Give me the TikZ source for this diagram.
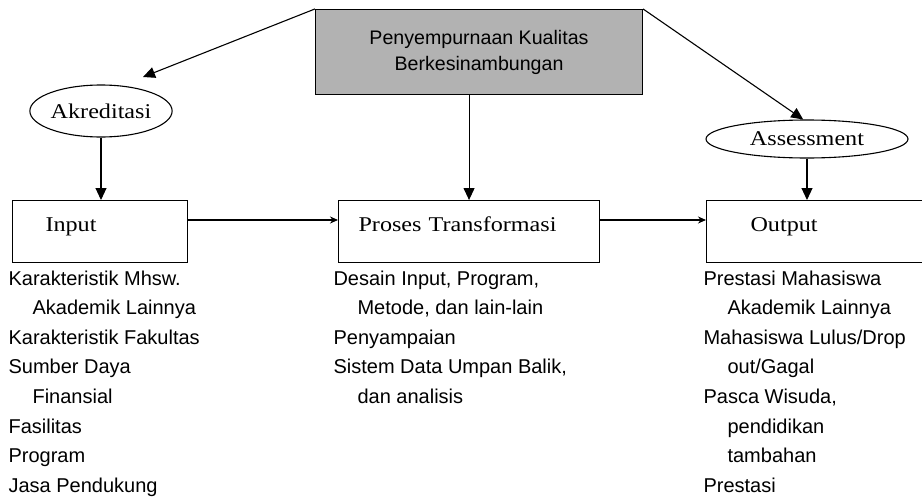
\documentclass[tikz,border=0pt]{standalone}
\usepackage{fontspec}
\setmainfont{Liberation Serif}
\setsansfont{Liberation Sans}
\newfontfamily\labelfont{Liberation Serif}[FakeStretch=1.15]
\usetikzlibrary{shapes.geometric,arrows.meta}

\begin{document}
\begin{tikzpicture}[x=1pt,y=-1pt,line width=1.1pt,
  kotak/.style={draw,anchor=north west,inner sep=0pt,text width=#1,
    text height=31pt,text depth=31pt,align=left,
    font=\labelfont\fontsize{21}{24}\selectfont},
  elips/.style={draw,ellipse,font=\labelfont\fontsize{21}{24}\selectfont,inner sep=0pt},
  daftar/.style={anchor=north west,font=\sffamily\fontsize{20}{29.6}\selectfont,
    align=left,inner sep=0pt},
  panah/.style={-{Triangle[length=12pt,width=11pt]}},
  panahkecil/.style={-{Stealth[length=8pt,width=7pt]}}]
\useasboundingbox (0,0) rectangle (922,498);

% kotak atas
\node[draw,fill=gray!60,minimum width=327pt,minimum height=85pt,
  font=\sffamily\fontsize{19.6}{26}\selectfont,align=center] (mutu) at (479,52)
  {Penyempurnaan Kualitas\\Berkesinambungan};

% elips
\node[elips,minimum width=133pt,minimum height=52pt] (akred) at (101,111) {Akreditasi};
\node[elips,minimum width=202pt,minimum height=38pt] (assess) at (807,139) {Assessment};
\coordinate (ujungakred) at (143,77);

% kotak proses
\node[kotak=175pt] (input) at (12,200) {\hspace{33pt}Input};
\node[kotak=261pt] (proses) at (338,200) {\hspace{20pt}Proses Transformasi};
\node[kotak=220pt] (output) at (706,200) {\hspace{44pt}Output};

% panah
\draw[panah] (mutu.north west) -- (ujungakred);
\draw[panah] (mutu.north east) -- (assess.101);
\draw[panah] (akred.south) -- (akred.south |- input.north);
\draw[panah] (mutu.south -| proses.north) -- (proses.north);
\draw[panah] (assess.south) -- (assess.south |- output.north);
\draw[panahkecil] (input.north east) ++(0,20) coordinate (a) -- (a -| proses.west);
\draw[panahkecil] (proses.north east) ++(0,20) coordinate (b) -- (b -| output.west);

% keterangan
\node[daftar] (ketinput) at (8,270) {Karakteristik Mhsw.\\
  \hspace{24pt}Akademik Lainnya\\
  Karakteristik Fakultas\\
  Sumber Daya\\
  \hspace{24pt}Finansial\\
  Fasilitas\\
  Program\\
  Jasa Pendukung};
\node[daftar] (ketproses) at (333,270) {Desain Input, Program,\\
  \hspace{24pt}Metode, dan lain-lain\\
  Penyampaian\\
  Sistem Data Umpan Balik,\\
  \hspace{24pt}dan analisis};
\node[daftar] (ketoutput) at (703,270) {Prestasi Mahasiswa\\
  \hspace{24pt}Akademik Lainnya\\
  Mahasiswa Lulus/Drop\\
  \hspace{24pt}out/Gagal\\
  Pasca Wisuda,\\
  \hspace{24pt}pendidikan\\
  \hspace{24pt}tambahan\\
  Prestasi};
\end{tikzpicture}
\end{document}
